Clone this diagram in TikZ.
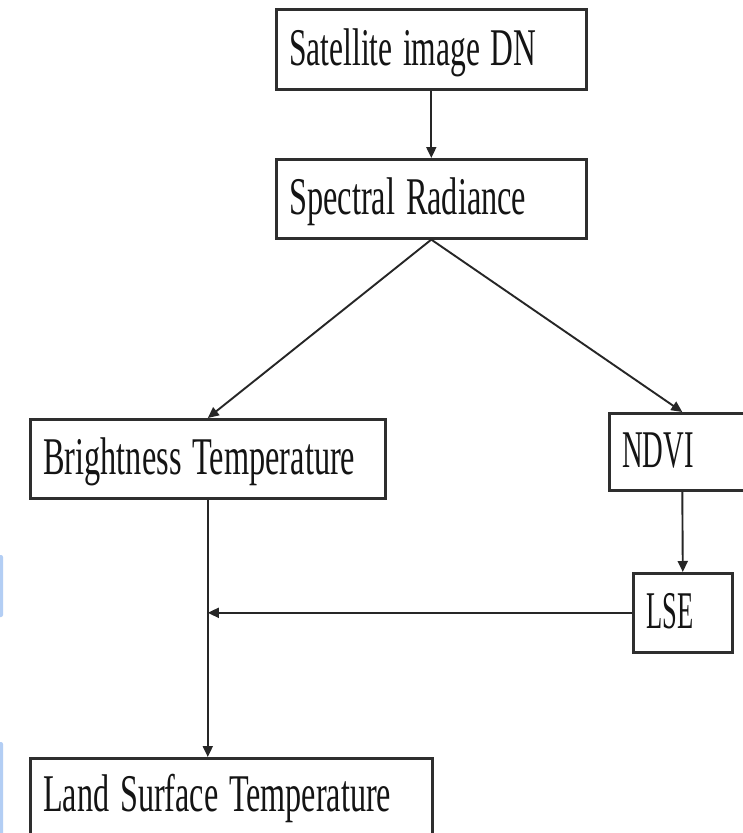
\documentclass[tikz,border=0pt]{standalone}
\usepackage{fontspec}
\setmainfont{Liberation Serif}
\usetikzlibrary{arrows.meta}
\newcommand{\sq}[2][0.6]{\scalebox{#1}[1]{#2}}
\definecolor{edge}{HTML}{2E2E2E}
\definecolor{strip}{HTML}{B3CEF4}
\tikzset{
  box/.style={draw=edge, line width=2.6pt, anchor=north west, inner xsep=13pt, inner ysep=0pt,
    align=left, text height=42pt, text depth=10pt, font=\fontsize{53}{60}\selectfont, text=black!92},
  conn/.style={draw=black!85, line width=1.9pt, -{Triangle[length=11pt,width=10pt]}}
}
\begin{document}
\begin{tikzpicture}[x=1pt,y=-1pt]
\useasboundingbox (0,0) rectangle (743,833);
\fill[white] (0,0) rectangle (743,833);
\clip (0,0) rectangle (743,833);
\fill[strip, rounded corners=2pt] (-4,555) rectangle (3,617);
\fill[strip, rounded corners=2pt] (-4,742) rectangle (3,840);
\node[box, minimum width=310pt, minimum height=80pt, text width=284pt] (sat) at (275,8) {\sq[0.595]{Satellite image DN}};
\node[box, minimum width=310pt, minimum height=79pt, text width=284pt] (spec) at (275,158) {\sq[0.61]{Spectral Radiance}};
\node[box, minimum width=355pt, minimum height=79pt, text width=329pt] (bt) at (29,418) {\sq[0.61]{Brightness Temperature}};
\node[box, minimum width=146pt, minimum height=77pt, text width=120pt] (ndvi) at (608,412) {\sq[0.54]{NDVI}};
\node[box, minimum width=99pt, minimum height=79pt, text width=73pt] (lse) at (632,572) {\sq[0.5]{LSE}};
\node[box, minimum width=402pt, minimum height=82pt, text width=376pt, text height=38pt, text depth=14pt] (lst) at (29,757) {\sq[0.607]{Land Surface Temperature}};
\draw[conn] (sat.south) -- (spec.north);
\draw[conn] (spec.south) -- (bt.north);
\draw[conn] (spec.south) -- (ndvi.north);
\draw[conn] (ndvi.south) -- (lse.north);
\draw[conn] (bt.south) -- (bt.south |- lst.north);
\draw[conn] (lse.west) -- (lse.west -| bt.south);
\end{tikzpicture}
\end{document}
